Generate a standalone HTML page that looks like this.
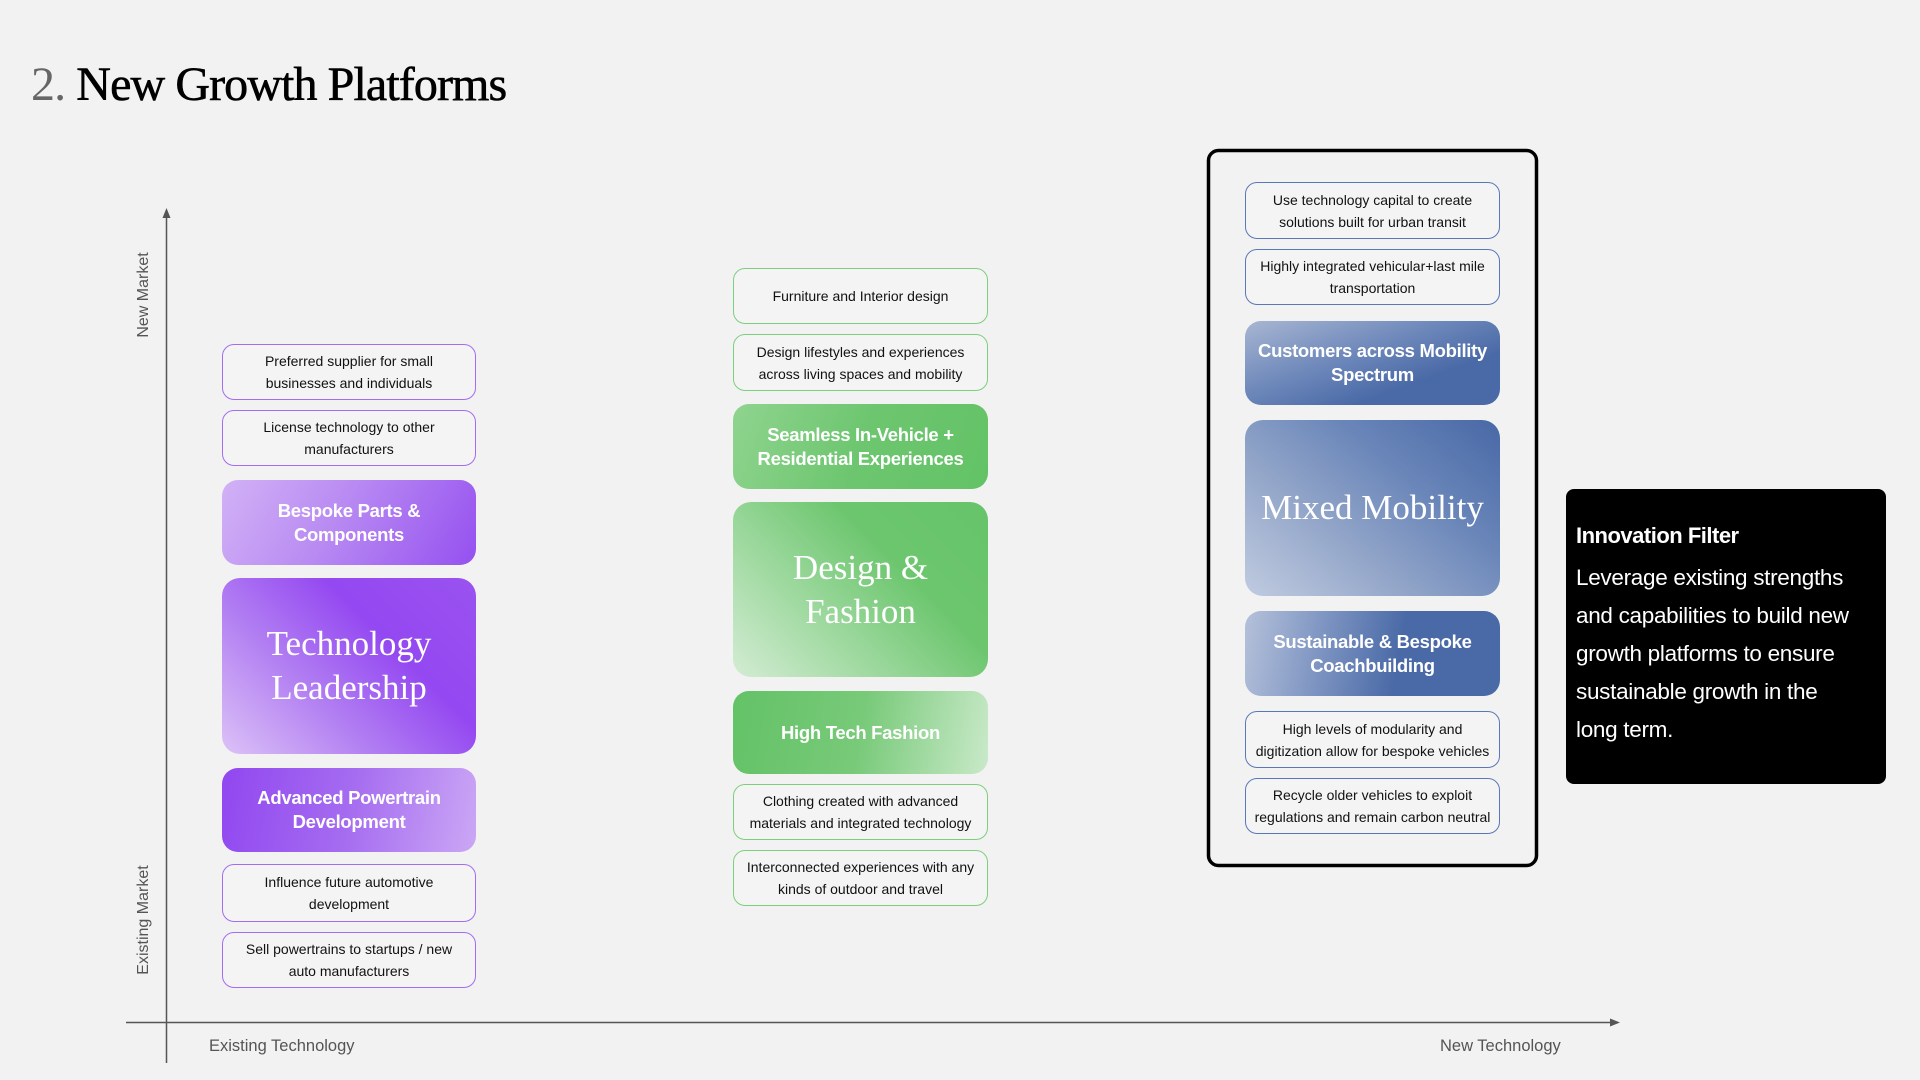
<!DOCTYPE html>
<html><head><meta charset="utf-8"><style>
body{margin:0;background:#f2f2f2;}
#c{position:relative;width:1920px;height:1080px;background:#f2f2f2;overflow:hidden;font-family:"Liberation Sans",Arial,sans-serif;}
.a{position:absolute;box-sizing:border-box;display:flex;align-items:center;justify-content:center;text-align:center;}
.s{font-size:14px;line-height:22px;color:#111;border:1.5px solid;border-radius:12px;background:#f4f4f4;padding:0 6px;}
.p{border-color:#a46cf0}.g{border-color:#7ccf7c}.b{border-color:#5a78b8}
.m{color:#fff;font-size:18.5px;font-weight:bold;letter-spacing:-0.3px;line-height:24px;border-radius:16px;padding:0 10px;}
.L{color:#fff;font-family:"Liberation Serif",serif;font-size:35px;line-height:44px;border-radius:18px;}
</style></head><body><div id="c">
<div style="position:absolute;left:31px;top:57px;font-family:'Liberation Serif',serif;font-size:48px;letter-spacing:-0.9px;color:#000;-webkit-text-stroke:0.6px #000"><span style="color:#666;-webkit-text-stroke:0">2.</span> New Growth Platforms</div>

<svg style="position:absolute;left:0;top:0" width="1920" height="1080">
<line x1="166.5" y1="214" x2="166.5" y2="1063" stroke="#555" stroke-width="1.5"/>
<polygon points="166.5,208 162.5,218 170.5,218" fill="#555"/>
<line x1="126" y1="1022.5" x2="1612" y2="1022.5" stroke="#555" stroke-width="1.5"/>
<polygon points="1620,1022.5 1610,1018.5 1610,1026.5" fill="#555"/>
<rect x="1208.5" y="150.5" width="328" height="715" rx="10" fill="none" stroke="#000" stroke-width="3.5"/>
</svg>
<div style="position:absolute;left:144px;top:295px;transform:translate(-50%,-50%) rotate(-90deg);font-size:16px;color:#555;white-space:nowrap">New Market</div>
<div style="position:absolute;left:144px;top:920px;transform:translate(-50%,-50%) rotate(-90deg);font-size:16px;color:#555;white-space:nowrap">Existing Market</div>
<div style="position:absolute;left:209px;top:1037px;font-size:16.5px;color:#555">Existing Technology</div>
<div style="position:absolute;left:1440px;top:1037px;font-size:16.5px;color:#555">New Technology</div>

<!-- col1 -->
<div class="a s p" style="left:222px;top:344px;width:254px;height:56px">Preferred supplier for small<br>businesses and individuals</div>
<div class="a s p" style="left:222px;top:410px;width:254px;height:56px">License technology to other<br>manufacturers</div>
<div class="a m" style="left:222px;top:480px;width:254px;height:85px;background:linear-gradient(120deg,#d2b2f6 0%,#b88af2 45%,#9550f0 100%)">Bespoke Parts &amp;<br>Components</div>
<div class="a L" style="left:222px;top:578px;width:254px;height:176px;background:linear-gradient(45deg,#dcc2f7 0%,#b27ff2 35%,#9448f1 65%,#9a52f0 100%)">Technology<br>Leadership</div>
<div class="a m" style="left:222px;top:768px;width:254px;height:84px;background:linear-gradient(100deg,#9147f0 0%,#a56cf0 50%,#cba7f5 100%)">Advanced Powertrain<br>Development</div>
<div class="a s p" style="left:222px;top:864px;width:254px;height:58px">Influence future automotive<br>development</div>
<div class="a s p" style="left:222px;top:932px;width:254px;height:56px">Sell powertrains to startups / new<br>auto manufacturers</div>

<!-- col2 -->
<div class="a s g" style="left:733px;top:268px;width:255px;height:56px">Furniture and Interior design</div>
<div class="a s g" style="left:733px;top:334px;width:255px;height:57px">Design lifestyles and experiences<br>across living spaces and mobility</div>
<div class="a m" style="left:733px;top:404px;width:255px;height:85px;background:linear-gradient(110deg,#8fd48f 0%,#6dc66f 50%,#63c266 100%)">Seamless In-Vehicle +<br>Residential Experiences</div>
<div class="a L" style="left:733px;top:502px;width:255px;height:175px;background:linear-gradient(45deg,#d4ecd4 0%,#9cd89d 35%,#6cc66e 65%,#66c469 100%)">Design &amp;<br>Fashion</div>
<div class="a m" style="left:733px;top:691px;width:255px;height:83px;background:linear-gradient(100deg,#63c266 0%,#78ca79 50%,#c9e9c9 100%)">High Tech Fashion</div>
<div class="a s g" style="left:733px;top:784px;width:255px;height:56px">Clothing created with advanced<br>materials and integrated technology</div>
<div class="a s g" style="left:733px;top:850px;width:255px;height:56px">Interconnected experiences with any<br>kinds of outdoor and travel</div>

<!-- col3 -->
<div class="a s b" style="left:1245px;top:182px;width:255px;height:57px">Use technology capital to create<br>solutions built for urban transit</div>
<div class="a s b" style="left:1245px;top:249px;width:255px;height:56px">Highly integrated vehicular+last mile<br>transportation</div>
<div class="a m" style="left:1245px;top:321px;width:255px;height:84px;background:linear-gradient(160deg,#a8b6d2 0%,#6f89bb 40%,#4a6aa7 70%,#4a6aa7 100%)">Customers across Mobility<br>Spectrum</div>
<div class="a L" style="left:1245px;top:420px;width:255px;height:176px;background:linear-gradient(40deg,#c0cbe0 0%,#93a6c9 35%,#6a86b9 65%,#4868a6 100%)">Mixed Mobility</div>
<div class="a m" style="left:1245px;top:611px;width:255px;height:85px;background:linear-gradient(100deg,#b5c1da 0%,#7e95c2 30%,#4a6aa7 60%,#4a6aa7 100%)">Sustainable &amp; Bespoke<br>Coachbuilding</div>
<div class="a s b" style="left:1245px;top:711px;width:255px;height:57px">High levels of modularity and<br>digitization allow for bespoke vehicles</div>
<div class="a s b" style="left:1245px;top:778px;width:255px;height:56px">Recycle older vehicles to exploit<br>regulations and remain carbon neutral</div>

<div style="position:absolute;left:1566px;top:489px;width:320px;height:295px;background:#000;border-radius:8px;color:#fff;box-sizing:border-box;padding:32px 10px 0 10px">
<div style="font-size:22px;font-weight:bold;letter-spacing:-0.5px;line-height:30px">Innovation Filter</div>
<div style="font-size:22.5px;line-height:38px;margin-top:8px;letter-spacing:-0.3px">Leverage existing strengths<br>and capabilities to build new<br>growth platforms to ensure<br>sustainable growth in the<br>long term.</div>
</div>
</div></body></html>
